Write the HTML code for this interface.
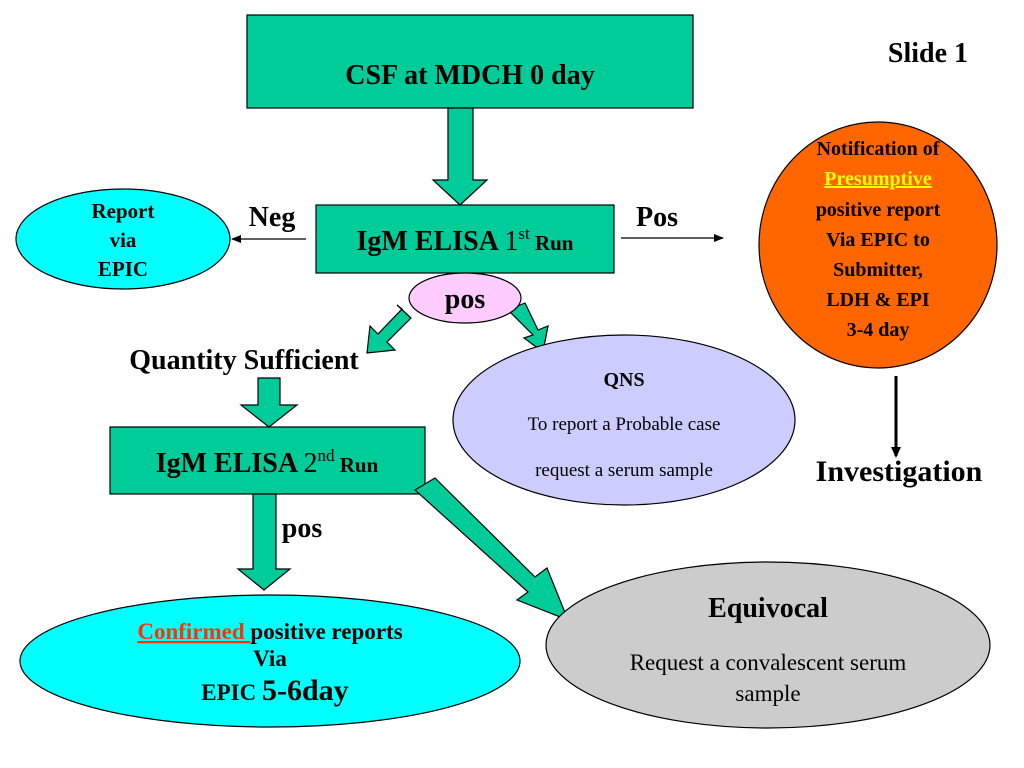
<!DOCTYPE html>
<html><head><meta charset="utf-8"><style>
html,body{margin:0;padding:0;background:#fff;}
svg{display:block;font-family:"Liberation Serif",serif;}
</style></head><body>
<svg width="1024" height="768" viewBox="0 0 1024 768" xmlns="http://www.w3.org/2000/svg">
<defs>
<marker id="ah" markerWidth="10" markerHeight="8" refX="9" refY="4" orient="auto" markerUnits="userSpaceOnUse"><path d="M0,0 L10,4 L0,8 z" fill="#000"/></marker>
<marker id="ah2" markerWidth="14" markerHeight="14" refX="7" refY="12" orient="0" markerUnits="userSpaceOnUse"><path d="M0,0 L14,0 L7,14 z" fill="#000"/></marker>
</defs>
<g stroke="#000" stroke-width="1.2">
<rect x="247" y="15" width="446" height="93" fill="#00CC99"/>
<polygon points="448,108 473,108 473,180 487,180 460,205 433,180 448,180" fill="#00CC99"/>
<rect x="316" y="205" width="298" height="68" fill="#00CC99"/>
<ellipse cx="123" cy="239" rx="107" ry="50" fill="#00FFFF"/>
<ellipse cx="878" cy="245" rx="119" ry="123" fill="#FF6600"/>
<polygon points="397,305 411,318 387,342 395,350 367,353 370,326 378,334 402,309" fill="#00CC99"/>
<polygon points="508,310 525,303 538,330 548,326 543,352 524,338 533,335" fill="#00CC99"/>
<ellipse cx="465" cy="298" rx="56" ry="25" fill="#FFCCFF"/>
<ellipse cx="624" cy="420" rx="171" ry="85" fill="#CCCCFF"/>
<polygon points="258,378 280,378 280,405 297,405 269,427 241,405 258,405" fill="#00CC99"/>
<rect x="110" y="427" width="315" height="67" fill="#00CC99"/>
<polygon points="253,494 276,494 276,569 290,569 264,590 238,569 253,569" fill="#00CC99"/>
<polygon points="415,490 435,478 535,577 547,568 568,620 517,600 528,592" fill="#00CC99"/>
<ellipse cx="270" cy="661" rx="250" ry="66" fill="#00FFFF"/>
<ellipse cx="768" cy="645" rx="222" ry="83" fill="#CCCCCC"/>
</g>
<line x1="306" y1="239" x2="232" y2="239" stroke="#000" stroke-width="1.2" marker-end="url(#ah)"/>
<line x1="621" y1="238" x2="723" y2="238" stroke="#000" stroke-width="1.2" marker-end="url(#ah)"/>
<line x1="896" y1="376" x2="896" y2="456" stroke="#000" stroke-width="3"/>
<polygon points="891,447 901,447 896,458" fill="#000"/>
<g font-weight="bold" fill="#000" text-anchor="middle">
<text x="470" y="84" font-size="28">CSF at MDCH  0 day</text>
<text x="928" y="62" font-size="28">Slide 1</text>
<text x="465" y="250" font-size="28">IgM ELISA <tspan font-weight="normal">1<tspan font-size="17" dy="-11">st</tspan></tspan><tspan font-size="21" dy="11"> Run</tspan></text>
<text x="272" y="226" font-size="28">Neg</text>
<text x="657" y="226" font-size="28">Pos</text>
<text x="123" y="218" font-size="21">Report</text>
<text x="123" y="247" font-size="21">via</text>
<text x="123" y="276" font-size="21">EPIC</text>
<g font-size="20">
<text x="878" y="155">Notification of</text>
<text x="878" y="185" fill="#FFFF00" text-decoration="underline">Presumptive</text>
<text x="878" y="216">positive report</text>
<text x="878" y="246">Via EPIC to</text>
<text x="878" y="276">Submitter,</text>
<text x="878" y="306">LDH &amp; EPI</text>
<text x="878" y="336">3-4 day</text>
</g>
<text x="465" y="308" font-size="28">pos</text>
<text x="244" y="369" font-size="28">Quantity Sufficient</text>
<text x="624" y="386" font-size="20">QNS</text>
<text x="899" y="481" font-size="30">Investigation</text>
<text x="267" y="472" font-size="28">IgM ELISA <tspan font-weight="normal">2<tspan font-size="17" dy="-11">nd</tspan></tspan><tspan font-size="21" dy="11"> Run</tspan></text>
<text x="302" y="537" font-size="28">pos</text>
<text x="768" y="617" font-size="28">Equivocal</text>
<text x="270" y="639" font-size="23"><tspan fill="#FF3300" text-decoration="underline">Confirmed </tspan>positive reports</text>
<text x="270" y="666" font-size="23">Via</text>
<text x="275" y="700" font-size="23">EPIC <tspan font-size="30">5-6day</tspan></text>
</g>
<g fill="#000" text-anchor="middle" font-size="19">
<text x="624" y="430">To report a Probable case</text>
<text x="624" y="476">request a serum sample</text>
</g>
<g fill="#000" text-anchor="middle" font-size="23">
<text x="768" y="670">Request a convalescent serum</text>
<text x="768" y="701">sample</text>
</g>
</svg>
</body></html>
